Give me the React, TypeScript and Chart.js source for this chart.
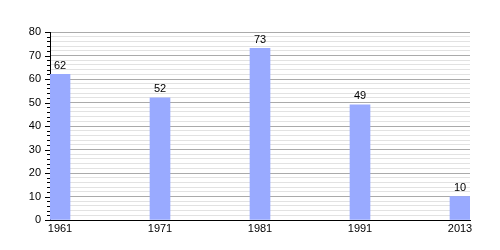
import React, { useEffect, useRef } from "react";
import { Chart, registerables } from "chart.js";

Chart.register(...registerables);

const categories = ["1961", "1971", "1981", "1991", "2013"];
const values = [62, 52, 73, 49, 10];
const yTicks = [0, 10, 20, 30, 40, 50, 60, 70, 80];

const FONT = "'Liberation Sans', Arial, sans-serif";

const valueLabels = {
  id: "valueLabels",
  afterDatasetsDraw(chart: any) {
    const ctx = chart.ctx;
    const meta = chart.getDatasetMeta(0);
    ctx.save();
    ctx.font = `11px ${FONT}`;
    ctx.fillStyle = "#000";
    ctx.textAlign = "center";
    ctx.textBaseline = "bottom";
    meta.data.forEach((el: any, i: number) => {
      ctx.fillText(String(values[i]), el.x, el.y - 3);
    });
    ctx.restore();
  },
};

const yTickMarks = {
  id: "yTickMarks",
  afterDraw(chart: any) {
    const ctx = chart.ctx;
    const y = chart.scales.y;
    const x0 = chart.chartArea.left;
    ctx.save();
    ctx.strokeStyle = "#000";
    ctx.lineWidth = 1;
    y.ticks.forEach((t: any) => {
      const py = Math.round(y.getPixelForValue(t.value)) + 0.5;
      const len = t.value % 10 === 0 ? 5 : 3;
      ctx.beginPath();
      ctx.moveTo(x0 - len, py);
      ctx.lineTo(x0, py);
      ctx.stroke();
    });
    ctx.restore();
  },
};

export default function App() {
  const ref = useRef<HTMLCanvasElement>(null);
  useEffect(() => {
    if (!ref.current) return;
    const chart = new Chart(ref.current, {
      type: "bar",
      data: {
        datasets: [
          {
            data: values.map((v, i) => ({ x: i, y: v })),
            backgroundColor: "#99aaff",
            borderWidth: 0,
            barThickness: 20,
          },
        ],
      },
      options: {
        animation: false,
        responsive: false,
        maintainAspectRatio: false,
        layout: { padding: { top: 32, right: 30, left: 0, bottom: 0 } },
        plugins: { legend: { display: false }, tooltip: { enabled: false } },
        scales: {
          x: {
            type: "linear",
            offset: false,
            min: -0.1,
            max: 4.1,
            afterBuildTicks(scale: any) {
              scale.ticks = categories.map((_, i) => ({ value: i }));
            },
            afterFit(scale: any) {
              scale.height = 30;
            },
            ticks: {
              callback: (v: any) => categories[v] ?? "",
              font: { family: FONT, size: 11 },
              color: "#000",
              padding: 2,
              maxRotation: 0,
              autoSkip: false,
            },
            grid: { display: false, drawTicks: false },
            border: { display: true, color: "#000", width: 1 },
          },
          y: {
            min: 0,
            max: 80,
            afterBuildTicks(scale: any) {
              const t = [];
              for (let v = 0; v <= 80; v += 2) t.push({ value: v });
              scale.ticks = t;
            },
            afterFit(scale: any) {
              scale.width = 50;
            },
            ticks: {
              callback: (v: any) => (yTicks.includes(v) ? String(v) : ""),
              font: { family: FONT, size: 11 },
              color: "#000",
              padding: 9,
              autoSkip: false,
            },
            grid: {
              color: (c: any) =>
                c.tick && c.tick.value % 10 === 0 ? "#aaaaaa" : "#e2e2e2",
              drawTicks: false,
              lineWidth: 1,
            },
            border: { display: true, color: "#000", width: 1 },
          },
        },
      },
      plugins: [valueLabels, yTickMarks],
    });
    return () => chart.destroy();
  }, []);
  return (
    <div style={{ position: "fixed", left: 0, top: 0, width: 500, height: 250, background: "#fff" }}>
      <canvas ref={ref} width={500} height={250} style={{ width: 500, height: 250 }} />
    </div>
  );
}
